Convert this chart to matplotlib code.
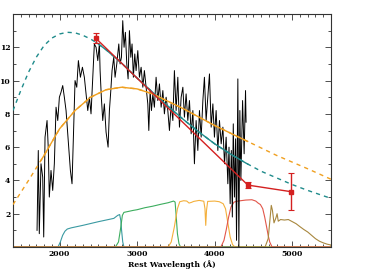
import numpy as np
import matplotlib
matplotlib.use("Agg")
import matplotlib.pyplot as plt
from matplotlib.ticker import MultipleLocator

# ---------------- data ----------------
spec_wave = [1710, 1726, 1739, 1761, 1783, 1796, 1813, 1839, 1856, 1868, 1890, 1912, 1933,
             1955, 1977, 1998, 2019, 2041, 2062, 2084, 2106, 2140, 2161, 2183, 2200, 2222,
             2243, 2269, 2295, 2320, 2342, 2364, 2385, 2406, 2428, 2449, 2471, 2493, 2514,
             2523, 2539, 2557, 2578, 2600, 2626, 2643, 2661, 2677, 2699, 2716, 2738, 2764,
             2781, 2798, 2815, 2832, 2849, 2867, 2884, 2901, 2919, 2935, 2952, 2970, 2987,
             3009, 3030, 3052, 3074, 3094, 3116, 3138, 3151, 3168, 3185, 3203, 3223, 3245,
             3267, 3288, 3310, 3332, 3352, 3374, 3396, 3417, 3439, 3461, 3481, 3503, 3525,
             3546, 3568, 3590, 3610, 3632, 3654, 3675, 3697, 3719, 3739, 3761, 3783, 3804,
             3826, 3848, 3868, 3890, 3912, 3933, 3955, 3977, 3997, 4019, 4041, 4062, 4084,
             4106, 4127, 4148, 4170, 4185, 4200, 4215, 4228, 4240, 4255, 4270, 4282, 4299,
             4312, 4325, 4338, 4360, 4380, 4398, 4405]
spec_flux = [1.0, 5.8, 0.8, 5.0, 4.2, 0.6, 6.6, 7.6, 5.8, 3.0, 4.6, 3.4, 5.0,
             8.4, 7.6, 9.0, 9.3, 9.7, 9.0, 8.2, 6.8, 4.6, 3.8, 7.2, 10.0, 9.6,
             11.2, 10.2, 10.8, 10.2, 9.2, 8.2, 9.0, 8.0, 10.2, 12.2, 12.0, 11.2, 12.2,
             10.6, 9.0, 7.6, 8.6, 6.9, 6.0, 8.2, 9.4, 10.6, 11.4, 10.2, 11.0, 12.2,
             11.0, 11.4, 13.6, 12.0, 12.9, 11.0, 10.1, 13.0, 11.4, 12.2, 10.2, 11.6, 10.6,
             11.8, 10.2, 10.8, 9.6, 10.6, 9.6, 8.6, 7.0, 9.4, 8.2, 9.2, 8.4, 10.2,
             8.8, 9.8, 8.4, 9.4, 8.0, 9.0, 8.2, 7.0, 8.6, 7.6, 10.6, 8.2, 10.2,
             7.2, 9.0, 9.6, 7.8, 9.2, 7.6, 8.8, 6.8, 8.2, 5.0, 7.6, 5.8, 8.2,
             6.6, 8.8, 10.2, 7.6, 9.0, 10.4, 7.2, 8.6, 6.6, 8.2, 5.8, 7.6, 6.2,
             7.2, 5.0, 6.6, 3.8, 6.0, 2.6, 5.8, 1.8, 7.4, 3.0, 6.5, 0.4, 10.1,
             0.0, 8.2, 4.0, 8.8, 5.6, 9.4, 7.5]

hot_wave = [1400, 1500, 1600, 1700, 1800, 1900, 2000, 2100, 2200, 2300, 2400, 2500, 2600,
            2800, 3000, 3200, 3400, 3600, 3800, 4000, 4200, 4400, 4600, 4800, 5000, 5200, 5500]
hot_flux = [8.2, 9.4, 10.5, 11.4, 12.1, 12.55, 12.8, 12.9, 12.87, 12.72, 12.5, 12.2, 11.85,
            11.05, 10.15, 9.3, 8.45, 7.65, 6.9, 6.2, 5.6, 5.05, 4.55, 4.15, 3.75, 3.4, 2.92]

cool_wave = [1400, 1600, 1800, 2000, 2200, 2400, 2600, 2800, 3000, 3200, 3400, 3600, 3800,
             4000, 4200, 4400, 4600, 4800, 5000, 5200, 5500]
cool_flux = [2.55, 4.0, 5.5, 7.1, 8.2, 9.0, 9.45, 9.6, 9.5, 9.2, 8.75, 8.3, 7.8,
             7.3, 6.85, 6.4, 5.95, 5.5, 5.1, 4.7, 4.07]

phot_wave = [2470, 4428, 4990]
phot_flux = [12.53, 3.72, 3.32]
phot_err = [0.3, 0.16, 1.1]

filt1_wave = [1980, 2010, 2040, 2070, 2100, 2150, 2300, 2500, 2600, 2650, 2700, 2750, 2775,
              2790, 2800, 2815, 2830]
filt1_resp = [0, 0.3, 0.7, 0.95, 1.08, 1.15, 1.3, 1.52, 1.62, 1.67, 1.72, 1.9, 1.95,
              1.6, 1.0, 0.3, 0]
filt2_wave = [2720, 2760, 2790, 2810, 2830, 2870, 2950, 3000, 3100, 3200, 3300, 3400, 3470,
              3490, 3505, 3520, 3540, 3560]
filt2_resp = [0, 0.3, 1.2, 1.9, 2.08, 2.12, 2.2, 2.24, 2.36, 2.45, 2.56, 2.66, 2.76,
              2.7, 1.8, 0.8, 0.2, 0]
filt3_wave = [3400, 3440, 3480, 3520, 3550, 3600, 3640, 3670, 3700, 3730, 3800, 3860, 3875,
              3885, 3895, 3910, 4000, 4060, 4110, 4140, 4170, 4200, 4230, 4260]
filt3_resp = [0, 0.3, 1.2, 2.3, 2.72, 2.78, 2.76, 2.64, 2.68, 2.74, 2.8, 2.75, 2.3,
              1.3, 2.2, 2.74, 2.76, 2.72, 2.6, 2.3, 1.45, 0.6, 0.15, 0]
filt4_wave = [4080, 4120, 4150, 4180, 4210, 4250, 4300, 4400, 4480, 4530, 4560, 4590, 4620,
              4645, 4670, 4690, 4710, 4740]
filt4_resp = [0, 0.4, 1.05, 1.8, 2.4, 2.7, 2.76, 2.82, 2.84, 2.76, 2.64, 2.55, 2.3,
              1.8, 1.2, 0.7, 0.3, 0]
filt5_wave = [4650, 4690, 4710, 4730, 4745, 4765, 4790, 4805, 4820, 4850, 4900, 4950, 4990,
              5050, 5100, 5150, 5200, 5250, 5300, 5350, 5400, 5450, 5500]
filt5_resp = [0, 0.5, 1.5, 2.5, 2.2, 1.45, 1.75, 2.0, 1.55, 1.65, 1.62, 1.65, 1.55,
              1.4, 1.22, 1.05, 0.9, 0.7, 0.5, 0.35, 0.25, 0.17, 0.12]

x_ticks = [2000, 3000, 4000, 5000]
y_ticks = [2, 4, 6, 8, 10, 12]
x_label = "Rest Wavelength (Å)"

# ---------------- figure ----------------
fig = plt.figure(figsize=(3.73, 2.75), dpi=100)
ax = fig.add_axes([13/373, 28/275, 318/373, 233/275])
XMIN, XMAX, YMIN, YMAX = 1400, 5500, 0, 14

# filter curves
filters = [(filt1_wave, filt1_resp, "#3a9aa2"),
           (filt2_wave, filt2_resp, "#3cad5e"),
           (filt3_wave, filt3_resp, "#f4b03c"),
           (filt4_wave, filt4_resp, "#e2564a"),
           (filt5_wave, filt5_resp, "#a8873e")]
for fw, fr, c in filters:
    w = np.concatenate(([XMIN], fw, [XMAX]))
    r = np.concatenate(([0], fr, [0]))
    ax.plot(w, r, color=c, lw=0.8, zorder=2)

# spectrum
sw = np.array(spec_wave); sf = np.array(spec_flux)
ax.plot(sw, sf, color="black", lw=0.7, zorder=3)

# model curves: dashed everywhere, solid over the fitted range
hw = np.array(hot_wave, float); hf = np.array(hot_flux)
cw = np.array(cool_wave, float); cf = np.array(cool_flux)
teal = "#1f8b8b"; orange = "#f0a020"
ax.plot(hw, hf, color=teal, lw=1.0, ls=(0, (3, 3)), zorder=4)
ax.plot(cw, cf, color=orange, lw=1.0, ls=(0, (3, 3)), zorder=4)

def solid_part(w, f, lo, hi):
    m = (w > lo) & (w < hi)
    ww = np.concatenate(([lo], w[m], [hi]))
    ff = np.concatenate(([np.interp(lo, w, f)], f[m], [np.interp(hi, w, f)]))
    return ww, ff

ww, ff = solid_part(hw, hf, phot_wave[0], sw.max() + 20)
ax.plot(ww, ff, color=teal, lw=1.0, zorder=5)
ww, ff = solid_part(cw, cf, sw.min() + 50, sw.max() + 20)
ax.plot(ww, ff, color=orange, lw=1.0, zorder=5)

# photometry
red = "#d42020"
ax.plot(phot_wave, phot_flux, color=red, lw=1.0, zorder=6)
ax.errorbar(phot_wave, phot_flux, yerr=phot_err, fmt="s", color=red, ms=2.5,
            capsize=2, elinewidth=1.0, capthick=0.8, zorder=7)

ax.set_xlim(XMIN, XMAX)
ax.set_ylim(YMIN, YMAX)
ax.set_xticks(x_ticks)
ax.set_yticks(y_ticks)
ax.xaxis.set_minor_locator(MultipleLocator(100))
ax.yaxis.set_minor_locator(MultipleLocator(1))
ax.tick_params(which="both", direction="in", top=True, right=True, colors="#333333",
               labelcolor="black", width=0.6)
ax.tick_params(which="major", length=4, labelsize=5.5, pad=2)
ax.tick_params(which="minor", length=2)
for lab in ax.get_xticklabels() + ax.get_yticklabels():
    lab.set_family("DejaVu Serif"); lab.set_fontweight("bold")
for s in ax.spines.values():
    s.set_linewidth(0.8); s.set_color("#333333")
ax.set_xlabel(x_label, family="DejaVu Serif", fontweight="bold", fontsize=5.5, labelpad=2)

fig.savefig("out.png", dpi=100)
